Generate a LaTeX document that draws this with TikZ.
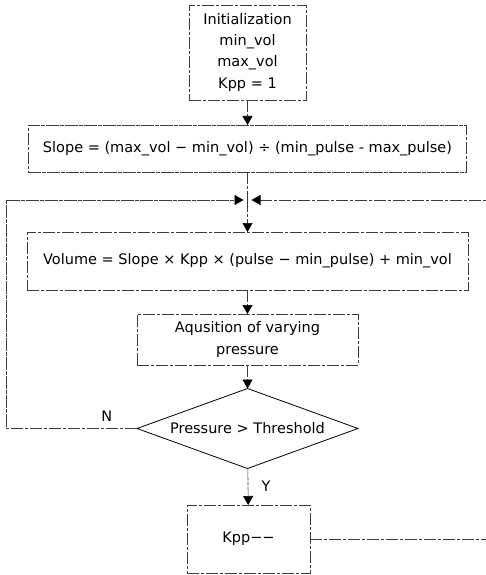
\documentclass[tikz,border=0pt]{standalone}
\usepackage{fontspec}
\setmainfont{DejaVu Sans}
\usetikzlibrary{arrows.meta,shapes.geometric}

\begin{document}
\begin{tikzpicture}[x=1pt,y=-1pt,line cap=rect,
  procbox/.style={draw=custcol_60_60_60, line width=0.6pt, dash pattern=on 12pt off 2pt on 3pt off 2pt, inner sep=0, outer sep=0, align=center, font=\fontsize{14.5pt}{21.5pt}\selectfont},
  decbox/.style={draw=custcol_0_0_0, line width=0.8pt, diamond, aspect=2.76, inner sep=0, outer sep=0, minimum width=221pt, minimum height=80pt, font=\fontsize{14.5pt}{21.5pt}\selectfont},
  flow/.style={draw=custcol_60_60_60, line width=0.6pt, dash pattern=on 12pt off 2pt on 3pt off 2pt},
  flowarr/.style={flow, -{Triangle[width=10pt,length=9pt,color=custcol_0_0_0]}},
  lbl/.style={inner sep=0, outer sep=0, custcol_0_0_0, font=\fontsize{14.5pt}{14.5pt}\selectfont}]
\useasboundingbox (0,0) rectangle (485,575);
\definecolor{custcol_0_0_0}{RGB}{0, 0, 0}
\definecolor{custcol_60_60_60}{RGB}{60, 60, 60}
% boxes
\node[procbox, minimum width=117pt, minimum height=95pt] (init) at (247.5,52.5) {Initialization\\[-0.5pt]min\_vol\\max\_vol\\Kpp = 1};
\node[procbox, minimum width=438pt, minimum height=47pt] (slope) at (247.5,148.5) {Slope = (max\_vol − min\_vol) ÷ (min\_pulse - max\_pulse)};
\coordinate (junc) at (247.5,200.0);
\node[procbox, minimum width=441pt, minimum height=58pt] (volume) at (247.5,261.0) {Volume = Slope × Kpp × (pulse − min\_pulse) + min\_vol};
\node[procbox, minimum width=221pt, minimum height=51pt] (aquis) at (247.5,339.5) {Aqusition of varying\\pressure};
\node[decbox] (decision) at (247.5,428.5) {Pressure > Threshold};
\node[procbox, minimum width=123pt, minimum height=68pt] (kpp) at (248.5,539.0) {Kpp−−};
\coordinate (loopL) at (6.0,200.0);
\coordinate (loopR) at (492.0,200.0);
% connectors
\draw[flowarr] (init) -- (slope);
\draw[flow] (slope) -- (junc);
\draw[flowarr] (junc) -- (volume);
\draw[flowarr] (volume) -- (aquis);
\draw[flowarr] (aquis) -- (decision);
\draw[flowarr] (decision) -- node[lbl, midway, right=13.5pt] {Y} (kpp);
\draw[flowarr, shorten >=4pt] (decision.west) -- node[lbl, pos=0.23, above=7pt] {N} (decision.west -| loopL) -- (loopL) -- (junc);
\draw[flowarr, shorten >=4pt] (kpp.east) -- (kpp.east -| loopR) -- (loopR) -- (junc);
\end{tikzpicture}
\end{document}
